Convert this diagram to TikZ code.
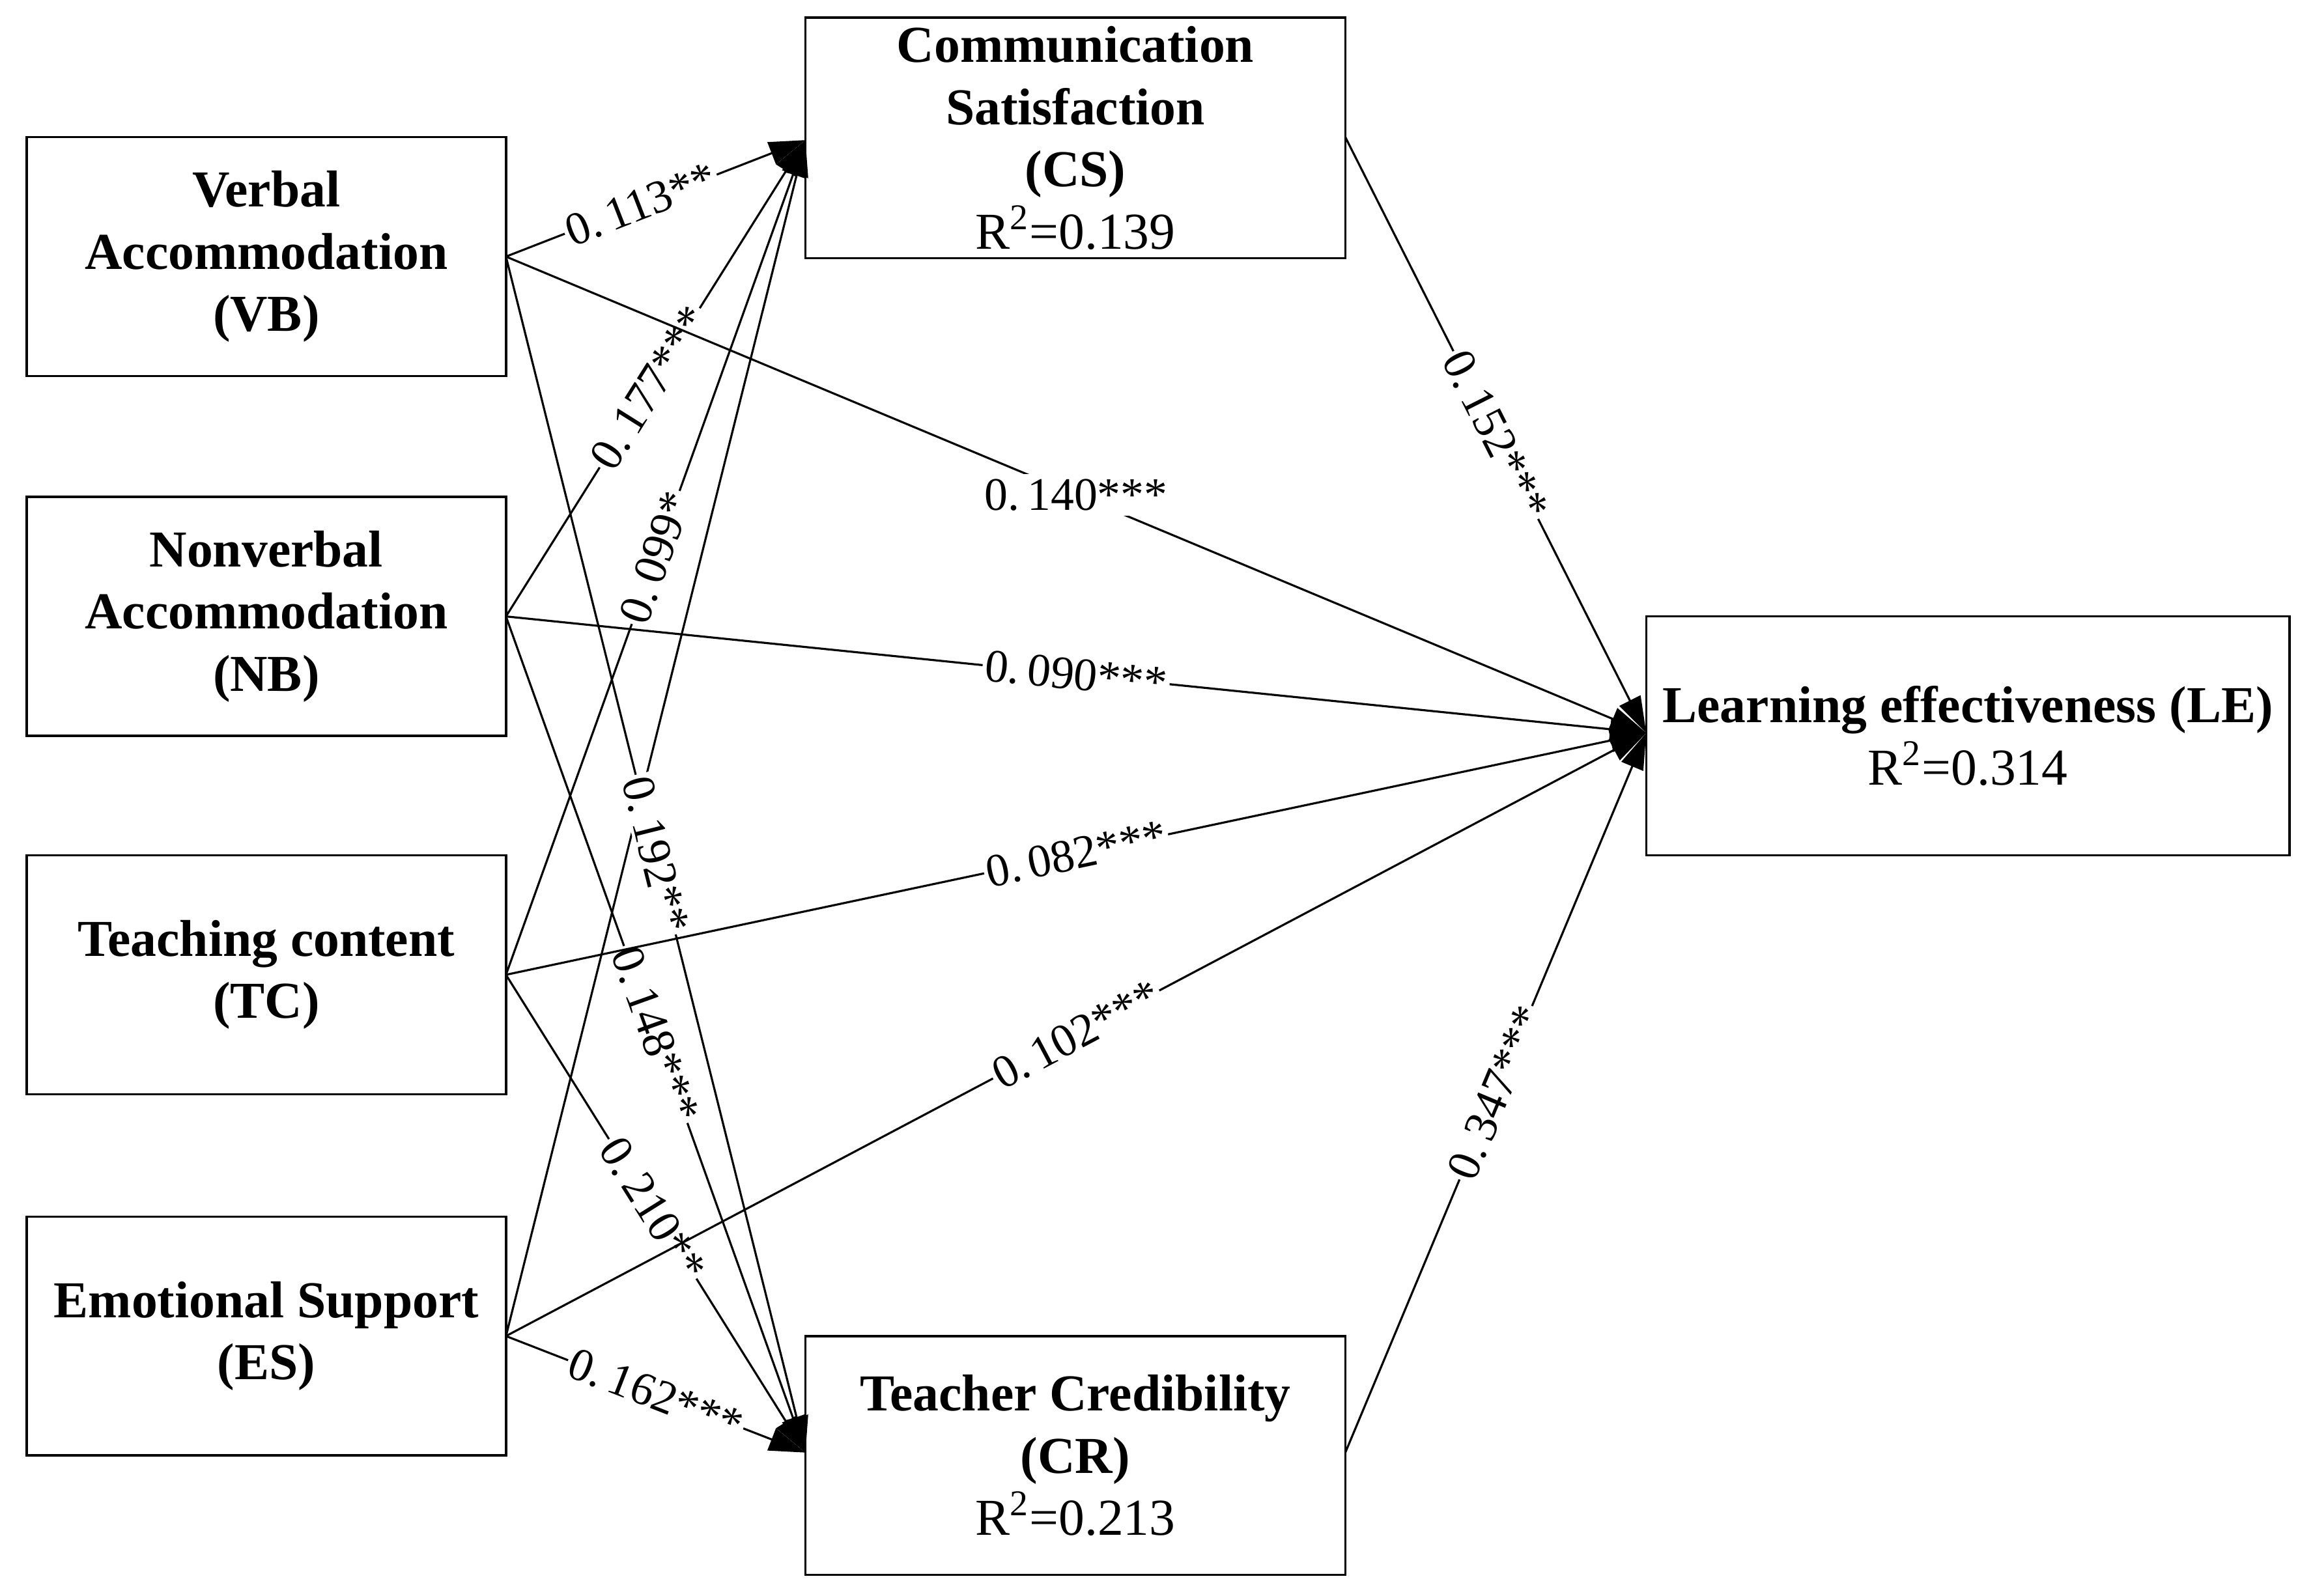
\documentclass[tikz,border=0pt]{standalone}
\usepackage{fontspec}
\setmainfont{Liberation Serif}
\usetikzlibrary{arrows.meta}
\begin{document}
\begin{tikzpicture}[x=0.02cm,y=-0.02cm,
 box/.style={draw,line width=0.9pt,align=center,font=\fontsize{20}{24}\selectfont\bfseries},
 ln/.style={line width=0.8pt,-{Triangle[length=14pt,width=9pt]}},
 pl/.style={line width=0.8pt},
 lab/.style={fill=white,inner sep=1pt,font=\fontsize{18}{20}\selectfont,sloped}]
\useasboundingbox (0,0) rectangle (1568,1082);
\node[box,minimum width=6.5cm,minimum height=3.24cm] (VB) at (180.5,174) {Verbal\\Accommodation\\(VB)};
\node[box,minimum width=6.5cm,minimum height=3.24cm] (NB) at (180.5,418) {Nonverbal\\Accommodation\\(NB)};
\node[box,minimum width=6.5cm,minimum height=3.24cm] (TC) at (180.5,661) {Teaching content\\(TC)};
\node[box,minimum width=6.5cm,minimum height=3.24cm] (ES) at (180.5,906) {Emotional Support\\(ES)};
\node[box,minimum width=7.32cm,minimum height=3.26cm] (CS) at (729,93.5) {Communication\\Satisfaction\\(CS)\\\mdseries R\textsuperscript{2}=0.139};
\node[box,minimum width=7.32cm,minimum height=3.24cm] (CR) at (729,987) {Teacher Credibility\\(CR)\\\mdseries R\textsuperscript{2}=0.213};
\node[box,minimum width=8.72cm,minimum height=3.24cm] (LE) at (1334,499) {Learning effectiveness (LE)\\\mdseries R\textsuperscript{2}=0.314};
\coordinate (cs) at (546,95);
\coordinate (cr) at (546,985);
\coordinate (le) at (1116,497);
\coordinate (csr) at (912,93);
\coordinate (crr) at (912,985);
\coordinate (vb) at (343,174);
\coordinate (nb) at (343,418);
\coordinate (tc) at (343,661);
\coordinate (es) at (343,906);
\draw[ln] (vb) -- node[lab,pos=0.45]{0.\,113**} (cs);
\draw[ln] (nb) -- node[lab,pos=0.48]{0.\,177***} (cs);
\draw[ln] (tc) -- node[lab,pos=0.5]{0.\,099*} (cs);
\draw[ln] (es) -- (cs);
\draw[ln] (vb) -- node[lab,pos=0.5]{0.\,192**} (cr);
\draw[ln] (nb) -- node[lab,pos=0.5]{0.\,148***} (cr);
\draw[ln] (tc) -- node[lab,pos=0.49]{0.\,210**} (cr);
\draw[ln] (es) -- node[lab,pos=0.5]{0.\,162***} (cr);
\draw[ln] (vb) -- node[fill=white,inner sep=2pt,font=\fontsize{18}{20}\selectfont,pos=0.5]{0.\,140***} (le);
\draw[ln] (nb) -- node[lab,pos=0.5]{0.\,090***} (le);
\draw[ln] (tc) -- node[lab,pos=0.5]{0.\,082***} (le);
\draw[ln] (es) -- node[lab,pos=0.5]{0.\,102***} (le);
\draw[ln] (csr) -- node[lab,pos=0.5]{0.\,152***} (le);
\draw[ln] (crr) -- node[lab,pos=0.5]{0.\,347***} (le);
\end{tikzpicture}
\end{document}
